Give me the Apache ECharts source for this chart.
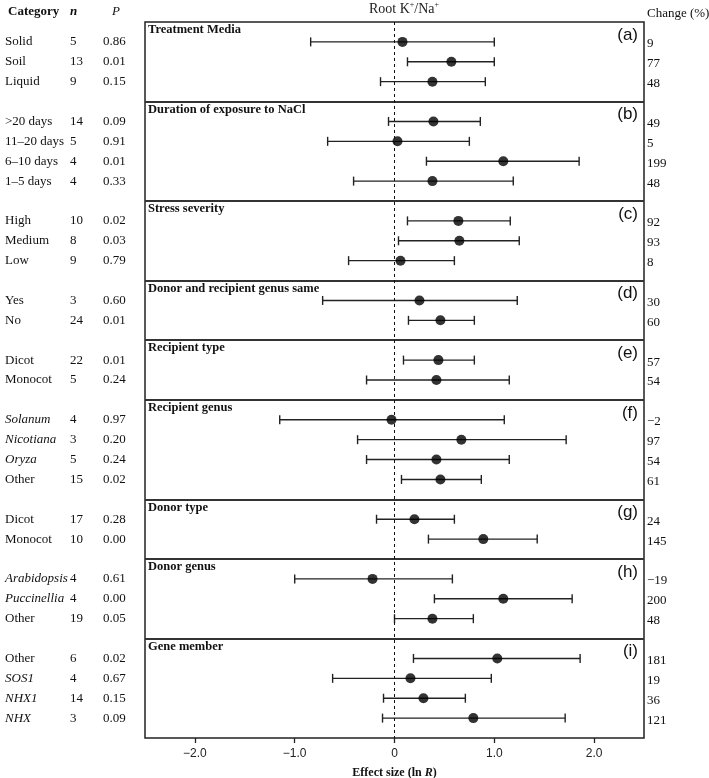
<!DOCTYPE html>
<html><head><meta charset="utf-8">
<script src="https://cdn.jsdelivr.net/npm/echarts@6/dist/echarts.min.js"></script>
<style>html,body{margin:0;padding:0;background:#fff}#c{width:709px;height:778px}</style>
</head><body><div id="c"></div>
<script>
// ---------- data ----------
const groupTitles = ['Treatment Media','Duration of exposure to NaCl','Stress severity','Donor and recipient genus same','Recipient type','Recipient genus','Donor type','Donor genus','Gene member'];
const groupTags = ['(a)','(b)','(c)','(d)','(e)','(f)','(g)','(h)','(i)'];
const groupSizes = [3,4,3,2,2,4,2,3,4];
const categories = ['Solid','Soil','Liquid','>20 days','11\u201320 days','6\u201310 days','1\u20135 days','High','Medium','Low','Yes','No','Dicot','Monocot','Solanum','Nicotiana','Oryza','Other','Dicot','Monocot','Arabidopsis','Puccinellia','Other','Other','SOS1','NHX1','NHX'];
const italicFlags = [0,0,0, 0,0,0,0, 0,0,0, 0,0, 0,0, 1,1,1,0, 0,0, 1,1,0, 0,1,1,1];
const nValues = [5,13,9, 14,5,4,4, 10,8,9, 3,24, 22,5, 4,3,5,15, 17,10, 4,4,19, 6,4,14,3];
const pValues = ['0.86','0.01','0.15', '0.09','0.91','0.01','0.33', '0.02','0.03','0.79', '0.60','0.01', '0.01','0.24', '0.97','0.20','0.24','0.02', '0.28','0.00', '0.61','0.00','0.05', '0.02','0.67','0.15','0.09'];
const effectSize = [0.08,0.57,0.38, 0.39,0.03,1.09,0.38, 0.64,0.65,0.06, 0.25,0.46, 0.44,0.42, -0.03,0.67,0.42,0.46, 0.20,0.89, -0.22,1.09,0.38, 1.03,0.16,0.29,0.79];
const ciLower = [-0.84,0.13,-0.14, -0.06,-0.67,0.32,-0.41, 0.13,0.04,-0.46, -0.72,0.14, 0.09,-0.28, -1.15,-0.37,-0.28,0.07, -0.18,0.34, -1.00,0.40,0.00, 0.19,-0.62,-0.11,-0.12];
const ciUpper = [1.00,1.00,0.91, 0.86,0.75,1.85,1.19, 1.16,1.25,0.60, 1.23,0.80, 0.80,1.15, 1.10,1.72,1.15,0.87, 0.60,1.43, 0.58,1.78,0.79, 1.86,0.97,0.71,1.71];
const changePct = ['9','77','48', '49','5','199','48', '92','93','8', '30','60', '57','54', '\u22122','97','54','61', '24','145', '\u221219','200','48', '181','19','36','121'];
const xMin = -2.5, xMax = 2.5;
const tickMin = -2, tickMax = 2, tickStep = 1;

// ---------- layout helpers (row slots derived from group sizes) ----------
const rowPos = [], groupStart = [];
let acc = 0;
groupSizes.forEach(s => { groupStart.push(acc); for (let k = 0; k < s; k++) rowPos.push(acc + k + 1); acc += s + 1; });
const totalUnits = acc;

const W = 709, gL = 145, gR = 65, gT = 22, gB = 40;
const unitPx = (W - gL - gR) / (xMax - xMin);
const tL = gL + (tickMin - xMin) * unitPx, tR = gR + (xMax - tickMax) * unitPx;

const SERIF = '"Liberation Serif","Times New Roman",serif';
const SANS = '"Liberation Sans",Arial,sans-serif';

const chart = echarts.init(document.getElementById('c'), null, {renderer: 'canvas'});

const option = {
  animation: false,
  backgroundColor: '#fff',
  grid: [
    {left: gL, right: gR, top: gT, bottom: gB, outerBoundsMode: 'none', containLabel: false, show: true, borderColor: '#222', borderWidth: 1.5, backgroundColor: 'transparent'},
    {left: tL, right: tR, top: gT, bottom: gB, outerBoundsMode: 'none', containLabel: false, show: false}
  ],
  xAxis: [
    {type: 'value', gridIndex: 0, min: xMin, max: xMax, show: false, axisLine: {onZero: false}},
    {
      type: 'value', gridIndex: 1, min: tickMin, max: tickMax, interval: tickStep, position: 'bottom',
      axisLine: {show: false, onZero: false}, splitLine: {show: false},
      axisTick: {show: true, inside: false, length: 5, lineStyle: {color: '#222', width: 1.3}},
      axisLabel: {margin: 10, fontFamily: SANS, fontSize: 12, color: '#222',
        formatter: v => v === 0 ? '0' : (v < 0 ? '\u2212' : '') + Math.abs(v).toFixed(1)},
      name: '{b|Effect size (ln }{bi|R}{b|)}', nameLocation: 'middle', nameGap: 29,
      nameTextStyle: {rich: {
        b: {fontFamily: SERIF, fontWeight: 'bold', fontSize: 12, color: '#111'},
        bi: {fontFamily: SERIF, fontWeight: 'bold', fontStyle: 'italic', fontSize: 12, color: '#111'}
      }}
    }
  ],
  yAxis: [
    {type: 'value', gridIndex: 0, min: 0, max: totalUnits, inverse: true, show: false, axisLine: {onZero: false}},
    {type: 'value', gridIndex: 1, min: 0, max: totalUnits, inverse: true, show: false, axisLine: {onZero: false}}
  ],
  graphic: [
    {type: 'text', x: 8, y: 12, style: {text: 'Category', font: 'bold 13px ' + SERIF, fill: '#111', align: 'left', verticalAlign: 'middle'}},
    {type: 'text', x: 70, y: 12, style: {text: 'n', font: 'bold italic 13px ' + SERIF, fill: '#111', align: 'left', verticalAlign: 'middle'}},
    {type: 'text', x: 112, y: 12, style: {text: 'P', font: 'italic 13px ' + SERIF, fill: '#111', align: 'left', verticalAlign: 'middle'}},
    {type: 'text', x: 647, y: 14, style: {text: 'Change (%)', font: '13px ' + SERIF, fill: '#111', align: 'left', verticalAlign: 'middle'}},
    {type: 'text', x: 404, y: 9, style: {
      text: '{a|Root K}{s|+}{a|/Na}{s|+}', align: 'center', verticalAlign: 'middle',
      rich: {a: {fontFamily: SERIF, fontSize: 14, fill: '#222'}, s: {fontFamily: SERIF, fontSize: 8, fill: '#222', verticalAlign: 'top', padding: [0, 0, 8, 0]}}
    }}
  ],
  series: [
    { // error bars
      type: 'custom', z: 3, xAxisIndex: 0, yAxisIndex: 0,
      data: ciLower.map((lo, i) => [lo, ciUpper[i], rowPos[i]]),
      renderItem: (params, api) => {
        const a = api.coord([api.value(0), api.value(2)]);
        const b = api.coord([api.value(1), api.value(2)]);
        const st = {stroke: '#222', lineWidth: 1.4};
        return {type: 'group', children: [
          {type: 'line', shape: {x1: a[0], y1: a[1], x2: b[0], y2: b[1]}, style: st},
          {type: 'line', shape: {x1: a[0], y1: a[1] - 4.5, x2: a[0], y2: a[1] + 4.5}, style: st},
          {type: 'line', shape: {x1: b[0], y1: b[1] - 4.5, x2: b[0], y2: b[1] + 4.5}, style: st}
        ]};
      },
      markLine: {
        silent: true, symbol: 'none', label: {show: false},
        lineStyle: {color: '#333', width: 2, type: 'solid'},
        data: groupStart.slice(1).map(v => ({yAxis: v}))
      }
    },
    { // point estimates
      type: 'scatter', z: 4, xAxisIndex: 0, yAxisIndex: 0, symbol: 'circle', symbolSize: 10,
      itemStyle: {color: '#000'},
      data: effectSize.map((e, i) => [e, rowPos[i]]),
      markLine: {
        silent: true, symbol: 'none', label: {show: false},
        lineStyle: {color: '#111', width: 1, type: [3, 3]},
        data: [{xAxis: 0}]
      }
    },
    { // row text columns
      type: 'custom', z: 5, silent: true, xAxisIndex: 0, yAxisIndex: 0,
      data: rowPos.map(y => [0, y]),
      renderItem: (params, api) => {
        const i = params.dataIndex;
        const y = api.coord([0, api.value(1)])[1];
        const f = '13px ' + SERIF;
        const mk = (x, yy, text, font) => ({type: 'text', x: x, y: yy, style: {text: text, font: font, fill: '#111', align: 'left', verticalAlign: 'middle'}});
        return {type: 'group', children: [
          mk(5, y, categories[i], (italicFlags[i] ? 'italic ' : '') + f),
          mk(70, y, String(nValues[i]), f),
          mk(103, y, pValues[i], f),
          mk(647, y + 2, changePct[i], f)
        ]};
      }
    },
    { // panel titles and tags
      type: 'custom', z: 5, silent: true, xAxisIndex: 0, yAxisIndex: 0,
      data: groupStart.map(g => [0, g]),
      renderItem: (params, api) => {
        const i = params.dataIndex;
        const y = api.coord([0, api.value(1)])[1];
        return {type: 'group', children: [
          {type: 'text', x: 148, y: y + 8, style: {text: groupTitles[i], font: 'bold 12.5px ' + SERIF, fill: '#111', align: 'left', verticalAlign: 'middle'}},
          {type: 'text', x: 638, y: y + 13, style: {text: groupTags[i], font: '17px ' + SANS, fill: '#111', align: 'right', verticalAlign: 'middle'}}
        ]};
      }
    }
  ]
};
chart.setOption(option);
</script>
</body></html>
